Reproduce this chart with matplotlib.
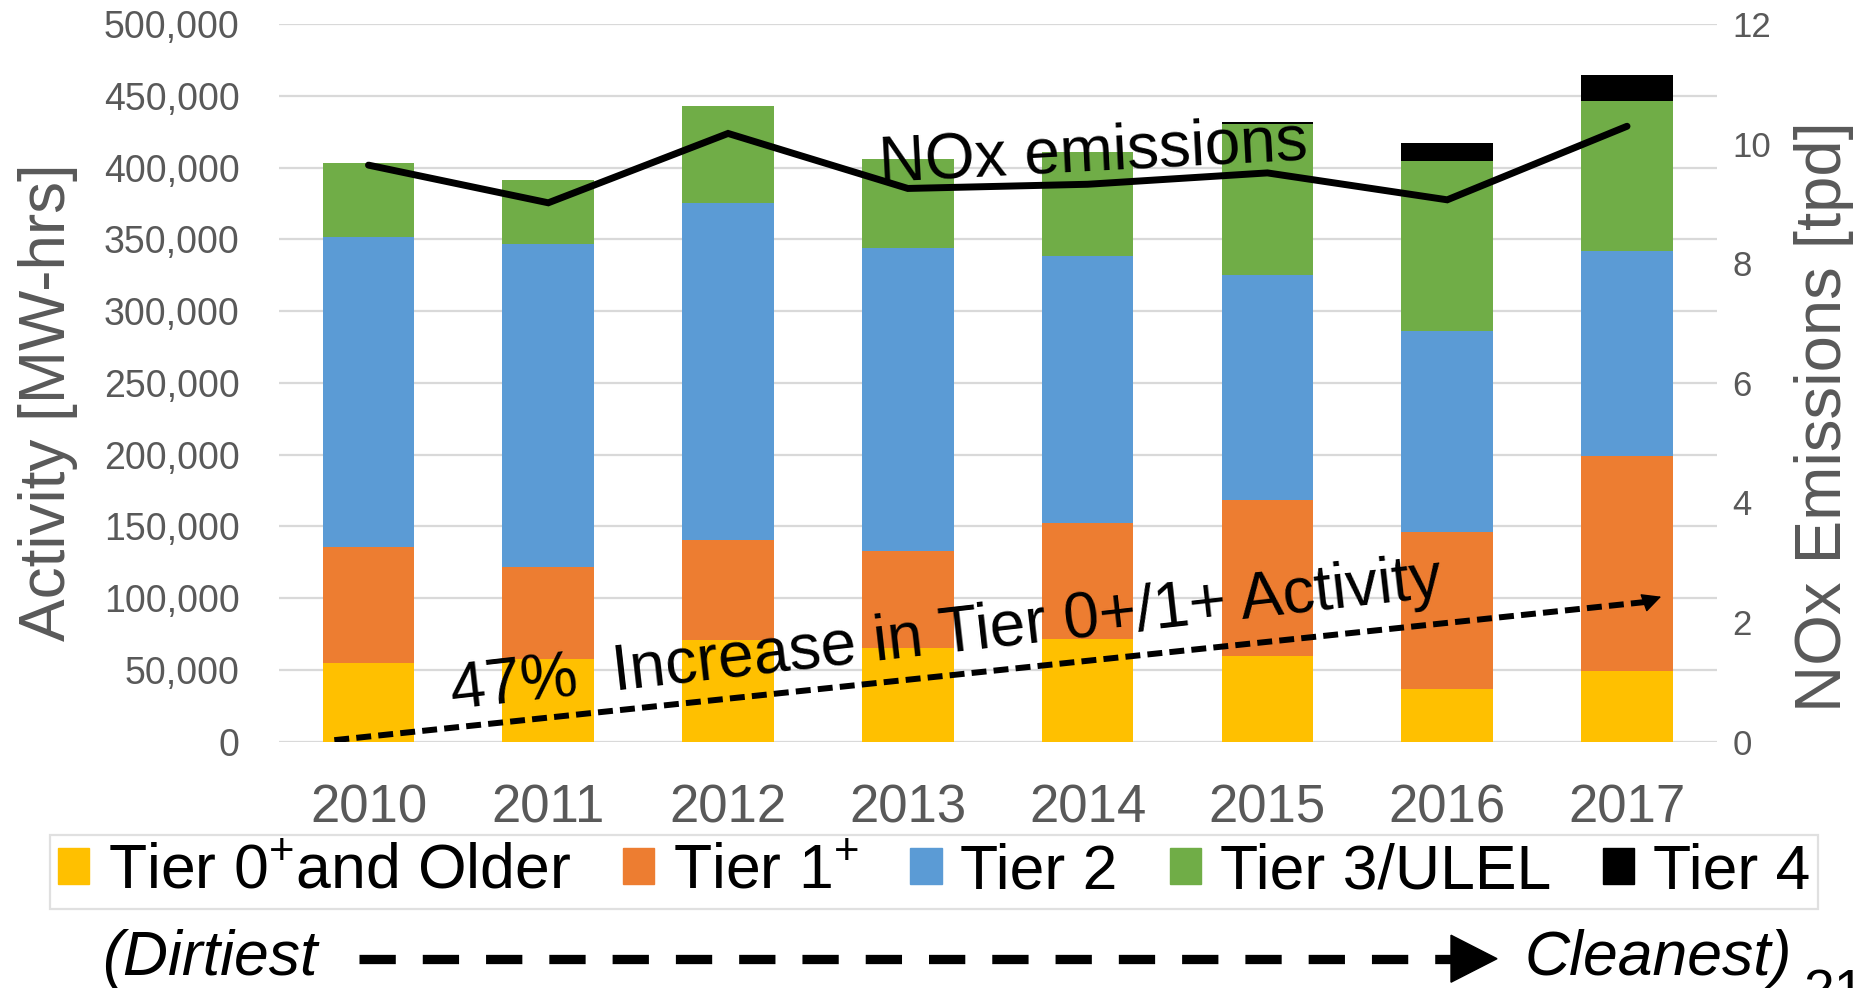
import numpy as np
import matplotlib
matplotlib.use("Agg")
import matplotlib.pyplot as plt
import matplotlib.patches as mpatches
from matplotlib.lines import Line2D
from matplotlib.ticker import FuncFormatter

plt.rcParams['font.family'] = ['Liberation Sans', 'DejaVu Sans']
plt.rcParams['mathtext.fontset'] = 'custom'
plt.rcParams['mathtext.rm'] = 'Liberation Sans'
plt.rcParams['mathtext.it'] = 'Liberation Sans:italic'
plt.rcParams['mathtext.bf'] = 'Liberation Sans:bold'

# ---------------- data ----------------
years = ['2010', '2011', '2012', '2013', '2014', '2015', '2016', '2017']
tier0 = [54600, 57400, 70800, 65500, 71500, 59900, 36700, 49200]
tier1 = [80800, 64100, 70000, 67500, 81000, 108400, 109100, 150000]
tier2 = [216400, 225200, 234300, 210700, 186100, 156700, 140000, 142900]
tier3 = [51100, 44600, 68000, 62000, 72400, 105300, 118700, 104500]
tier4 = [0, 0, 0, 0, 0, 1500, 12400, 17900]
nox_tpd = [9.64, 9.01, 10.17, 9.25, 9.32, 9.51, 9.06, 10.29]

series_labels = ['Tier 0$^{+}$and Older', 'Tier 1$^{+}$', 'Tier 2', 'Tier 3/ULEL', 'Tier 4']
series_colors = ['#FFC000', '#ED7D31', '#5B9BD5', '#70AD47', '#000000']
left_ticks = list(range(0, 500001, 50000))
right_ticks = list(range(0, 13, 2))

GRAY = '#595959'
GRID = '#D9D9D9'

fig = plt.figure(figsize=(18.76, 9.88), dpi=100)
ax = fig.add_axes([0.1485, 0.2494, 0.7667, 0.7263])

x = np.arange(len(years))
bottom = np.zeros(len(years))
for vals, col, lab in zip([tier0, tier1, tier2, tier3, tier4], series_colors, series_labels):
    ax.bar(x, vals, width=0.51, bottom=bottom, color=col, label=lab, zorder=2, linewidth=0)
    bottom += np.array(vals)

ax.set_xlim(-0.5, 7.5)
ax.set_ylim(0, 500000)
ax.set_yticks(left_ticks)
ax.yaxis.set_major_formatter(FuncFormatter(lambda v, p: f'{int(v):,}'))
ax.set_xticks(x)
ax.set_xticklabels(years)
ax.yaxis.grid(True, color=GRID, linewidth=1.6, zorder=0)
ax.set_axisbelow(True)
for s in ax.spines.values():
    s.set_visible(False)
ax.tick_params(axis='y', length=0, labelsize=27, labelcolor=GRAY, pad=28)
ax.tick_params(axis='x', length=0, labelsize=38, labelcolor=GRAY, pad=30)

ax2 = ax.twinx()
ax2.set_ylim(0, 12)
ax2.set_yticks(right_ticks)
for s in ax2.spines.values():
    s.set_visible(False)
ax2.tick_params(axis='y', length=0, labelsize=25, labelcolor=GRAY, pad=11)
ax2.plot(x, nox_tpd, color='black', linewidth=5, solid_capstyle='round',
         solid_joinstyle='miter', zorder=3)

# annotations
ax.text(4.03, 410000, 'NOx emissions', fontsize=46, rotation=3,
        ha='center', va='center', zorder=5)
ax.text(3.21, 74000, '47%  Increase in Tier 0+/1+ Activity', fontsize=46,
        rotation=6.5, ha='center', va='center', zorder=5)
ax.plot([-0.19, 7.12], [1000, 97500], color='black', linewidth=4.3,
        dashes=(2.5, 1.2), zorder=4)
ax.annotate('', xy=(7.19, 101000), xytext=(7.1, 97000),
            arrowprops=dict(arrowstyle='-|>', color='black', lw=1,
                            mutation_scale=30, shrinkA=0, shrinkB=0), zorder=4)

# axis titles
fig.text(48 / 1876, 1 - 402 / 988, 'Activity [MW-hrs]', rotation=90, fontsize=46,
         color=GRAY, ha='center', va='center')
fig.text(1824 / 1876, 1 - 417 / 988, 'NOx Emissions [tpd]', rotation=90, fontsize=47,
         color=GRAY, ha='center', va='center')

# legend
handles = [mpatches.Patch(color=c) for c in series_colors]
leg = fig.legend(handles, series_labels, loc='lower left',
                 bbox_to_anchor=(0.0267, 0.080, 0.9424, 0.0729), mode='expand',
                 ncol=5, fontsize=45, frameon=True, fancybox=False,
                 edgecolor=GRID, handlelength=0.5, handleheight=0.5,
                 handletextpad=0.3, borderaxespad=0, borderpad=0.12,
                 columnspacing=0.4)
leg.get_frame().set_linewidth(1.6)

# bottom dirtiest -> cleanest
ybase = 1 - 975 / 988
fig.text(102 / 1876, ybase, '(Dirtiest', fontsize=45, style='italic', va='baseline')
fig.text(1525 / 1876, ybase, 'Cleanest)', fontsize=45, style='italic', va='baseline')
ya = 1 - 958.7 / 988
fig.add_artist(Line2D([359 / 1876, 1452 / 1876], [ya, ya], transform=fig.transFigure,
                      color='black', linewidth=6.7, dashes=(3.9, 2.9)))
half = 23.5 / 988
fig.add_artist(mpatches.Polygon([[1451 / 1876, ya - half], [1451 / 1876, ya + half],
                                 [1497 / 1876, ya]], closed=True, color='black',
                                transform=fig.transFigure))
fig.text(1803 / 1876, 1 - 968 / 988, '21', fontsize=40, va='top', ha='left')

fig.savefig('out.png', dpi=100)
